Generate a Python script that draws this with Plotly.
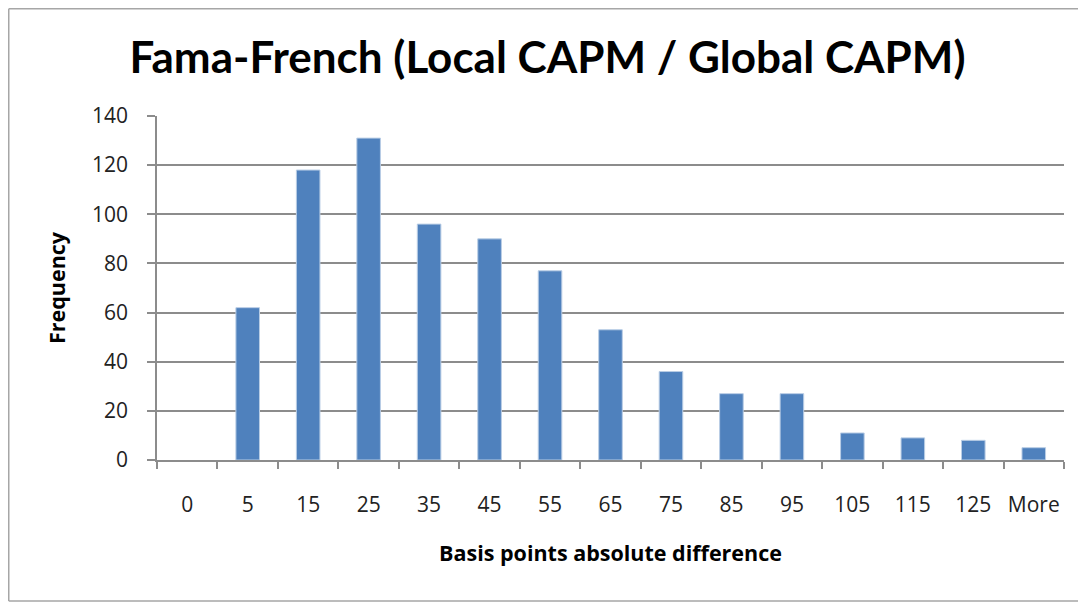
import plotly.graph_objects as go

categories = ["0", "5", "15", "25", "35", "45", "55", "65", "75", "85", "95", "105", "115", "125", "More"]
frequency = [0, 62, 118, 131, 96, 90, 77, 53, 36, 27, 27, 11, 9, 8, 5]
y_ticks = [0, 20, 40, 60, 80, 100, 120, 140]

TITLE_FONT = "Lato"
FONT = "Open Sans"

W, H = 1078, 595
L, R, T, B = 149, 22, 108, 143
PW, PH = W - L - R, H - T - B

fig = go.Figure()
fig.add_trace(go.Bar(
    x=categories, y=frequency,
    marker=dict(color="#4F81BD",
                line=dict(color="#B9CDE5", width=[0 if v == 0 else 1 for v in frequency])),
    hoverinfo="x+y",
))

fig.update_layout(
    width=W, height=H,
    margin=dict(l=L, r=R, t=T, b=B, autoexpand=False),
    paper_bgcolor="white", plot_bgcolor="white",
    bargap=0.61,
    showlegend=False,
    title=dict(text="<b>Fama-French (Local CAPM / Global CAPM)</b>",
               font=dict(family=TITLE_FONT, size=44, color="black"),
               x=539.5 / W, xanchor="center", y=1 - 50 / H, yanchor="middle"),
    font=dict(family=FONT, color="#222222"),
)

fig.update_xaxes(
    type="category", automargin=False, tickangle=0,
    showline=True, linecolor="#8C8C8C", linewidth=1.5,
    ticks="outside", tickson="boundaries", ticklen=7, tickcolor="#8C8C8C", tickwidth=1.5,
    tickfont=dict(size=21, family=FONT, color="#222222"),
    ticklabelstandoff=25,
    title=dict(text="<b>Basis points absolute difference</b>",
               font=dict(size=21.5, family=FONT, color="black"), standoff=29),
    showgrid=False,
)
fig.update_yaxes(
    range=[0, 140], tickvals=y_ticks, automargin=False,
    showline=True, linecolor="#8C8C8C", linewidth=1.5,
    ticks="outside", ticklen=8, tickcolor="#8C8C8C", tickwidth=1.5,
    showgrid=True, gridcolor="#8C8C8C", gridwidth=1.5,
    tickfont=dict(size=21, family=FONT, color="#222222"),
    ticklabelstandoff=15,
    title=dict(text="<b>Frequency</b>", font=dict(size=21.5, family=FONT, color="black"), standoff=20),
    zeroline=False,
)

# chart border (left, top, bottom)
def px_x(px):
    return (px - L) / PW

def px_y(py):
    return (T + PH - py) / PH

border = dict(color="#A6A6A6", width=1.5)
fig.add_shape(type="line", xref="paper", yref="paper",
              x0=px_x(0.75), x1=px_x(0.75), y0=px_y(0.75), y1=px_y(593), line=border)
fig.add_shape(type="line", xref="paper", yref="paper",
              x0=px_x(0.75), x1=px_x(W), y0=px_y(0.75), y1=px_y(0.75), line=border)
fig.add_shape(type="line", xref="paper", yref="paper",
              x0=px_x(0.75), x1=px_x(W), y0=px_y(593), y1=px_y(593), line=border)

fig.write_html("out.html")
